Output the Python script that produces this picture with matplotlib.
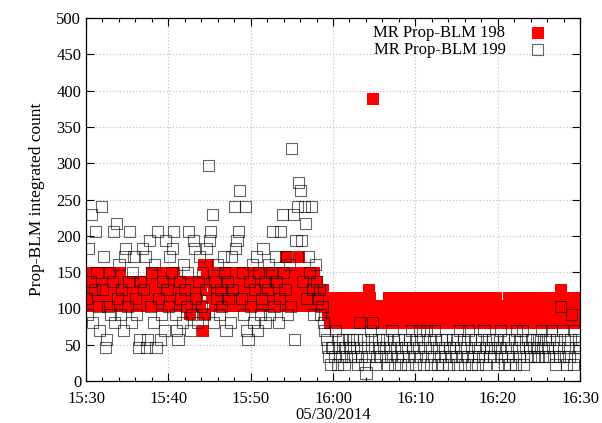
import pandas as pd
import matplotlib
matplotlib.use("Agg")
import matplotlib.pyplot as plt
import matplotlib.dates as mdates

plt.rcParams["font.family"] = ["Liberation Serif", "DejaVu Serif"]
plt.rcParams["font.size"] = 12

# one reading every 10 s, 15:30:00 .. 16:30:00
times = pd.date_range("2014-05-30 15:30:00", "2014-05-30 16:30:00", freq="10s")

# MR Prop-BLM 198, 15:30:00 - 15:59:50 (one row = 2 minutes)
blm198_early = [
    126, 149, 103, 137, 114, 149, 126, 103, 137, 149, 114, 126,
    103, 149, 137, 114, 126, 103, 149, 137, 114, 126, 149, 103,
    137, 149, 114, 126, 103, 137, 114, 126, 103, 137, 114, 126,
    103, 137, 126, 114, 103, 137, 126, 114, 103, 137, 126, 114,
    149, 103, 137, 126, 149, 114, 103, 137, 149, 126, 114, 103,
    137, 149, 126, 114, 149, 103, 137, 126, 114, 103, 137, 126,
    114, 103, 137, 126, 92, 114, 137, 103, 126, 114, 137, 103,
    126, 69, 160, 92, 149, 160, 137, 149, 114, 126, 103, 137,
    114, 126, 103, 137, 149, 126, 114, 149, 103, 137, 126, 149,
    114, 103, 137, 149, 126, 114, 103, 149, 137, 126, 114, 149,
    103, 137, 126, 149, 114, 103, 137, 149, 126, 114, 103, 149,
    137, 126, 114, 149, 103, 137, 126, 149, 114, 103, 137, 149,
    126, 114, 171, 149, 103, 137, 126, 149, 114, 103, 137, 171,
    149, 126, 114, 137, 103, 149, 126, 137, 114, 103, 149, 126,
    137, 114, 126, 103, 114, 126, 103, 114, 91, 103, 80, 91,
]
# MR Prop-BLM 198, 16:00:00 - 16:30:00
blm198_late = [
    103, 80, 114, 91, 80, 103, 114, 91, 103, 80, 114, 91,
    80, 103, 114, 91, 80, 103, 91, 114, 80, 103, 114, 91,
    80, 103, 126, 114, 91, 389, 80, 103, 91, 80, 103, 91,
    80, 103, 91, 80, 103, 114, 91, 80, 114, 103, 91, 80,
    114, 103, 91, 80, 114, 103, 80, 91, 114, 103, 80, 91,
    114, 80, 103, 91, 114, 80, 103, 91, 114, 80, 103, 91,
    114, 80, 103, 91, 80, 103, 91, 80, 103, 114, 91, 80,
    103, 114, 91, 80, 103, 114, 80, 91, 103, 114, 80, 91,
    103, 114, 80, 91, 103, 114, 80, 91, 103, 114, 80, 91,
    103, 80, 91, 103, 80, 91, 114, 103, 80, 91, 103, 114,
    80, 91, 103, 80, 91, 103, 80, 91, 114, 103, 80, 114,
    91, 103, 80, 114, 91, 103, 80, 114, 91, 103, 80, 114,
    91, 80, 103, 114, 91, 80, 103, 114, 91, 80, 103, 114,
    80, 91, 103, 114, 80, 91, 103, 114, 80, 91, 126, 103,
    114, 80, 91, 103, 114, 80, 91, 103, 114, 80, 91, 103,
    114,
]

# MR Prop-BLM 199, 15:30:00 - 15:59:50
blm199_early = [
    114, 91, 183, 137, 229, 80, 126, 206, 149, 103, 69, 240,
    126, 171, 46, 57, 103, 149, 91, 137, 206, 80, 217, 114,
    160, 91, 126, 69, 171, 183, 103, 137, 206, 80, 149, 171,
    114, 91, 46, 57, 137, 183, 126, 171, 46, 57, 194, 103,
    149, 80, 160, 46, 206, 114, 57, 91, 137, 69, 194, 126,
    103, 171, 149, 183, 206, 91, 69, 57, 137, 114, 80, 160,
    126, 103, 149, 206, 69, 91, 194, 183, 114, 80, 137, 171,
    103, 149, 91, 126, 183, 297, 194, 206, 229, 80, 137, 114,
    160, 91, 126, 103, 171, 149, 69, 137, 114, 80, 171, 126,
    240, 183, 194, 206, 263, 114, 149, 91, 240, 69, 57, 137,
    103, 160, 80, 126, 171, 69, 149, 91, 114, 183, 137, 80,
    126, 160, 91, 149, 206, 103, 171, 137, 80, 114, 206, 229,
    149, 126, 171, 91, 160, 103, 320, 229, 57, 194, 240, 274,
    263, 194, 137, 240, 217, 114, 171, 149, 240, 126, 91, 160,
    137, 114, 126, 91, 103, 80, 69, 57, 46, 34, 23, 46,
]
# MR Prop-BLM 199, 16:00:00 - 16:30:00
blm199_late = [
    46, 34, 69, 23, 57, 46, 34, 57, 23, 46, 34, 57,
    46, 34, 57, 46, 34, 57, 23, 80, 46, 34, 57, 23,
    11, 46, 34, 69, 57, 80, 46, 23, 34, 57, 46, 34,
    57, 46, 34, 57, 23, 46, 34, 69, 57, 23, 46, 34,
    57, 23, 46, 34, 57, 46, 23, 34, 57, 69, 46, 34,
    23, 57, 46, 69, 34, 57, 23, 46, 69, 34, 57, 23,
    46, 34, 69, 57, 23, 46, 34, 57, 23, 46, 34, 57,
    23, 46, 34, 57, 46, 34, 57, 23, 69, 46, 34, 57,
    23, 46, 34, 69, 57, 23, 34, 46, 57, 23, 34, 46,
    57, 34, 69, 23, 46, 57, 34, 46, 57, 34, 46, 57,
    23, 46, 69, 34, 57, 23, 46, 34, 57, 23, 46, 34,
    57, 23, 69, 46, 34, 57, 69, 23, 46, 34, 57, 46,
    34, 57, 46, 34, 57, 46, 34, 57, 69, 46, 34, 57,
    46, 34, 57, 69, 46, 34, 23, 57, 46, 34, 103, 69,
    34, 57, 23, 46, 34, 57, 91, 23, 69, 46, 34, 57,
    46,
]

blm198 = blm198_early + blm198_late
blm199 = blm199_early + blm199_late
assert len(blm198) == len(times) and len(blm199) == len(times)

fig = plt.figure(figsize=(6.02, 4.23), dpi=100)
ax = fig.add_axes([0.1429, 0.0993, 0.8206, 0.8581])

ax.scatter(times, blm198, marker="s", s=68, color="#ff0000", linewidths=0,
           label="MR Prop-BLM 198", zorder=2)
ax.scatter(times, blm199, marker="s", s=64, facecolors="none",
           edgecolors=(0, 0, 0, 0.6), linewidths=0.8,
           label="MR Prop-BLM 199", zorder=3)

ax.set_xlim(times[0], times[-1])
ax.set_ylim(0, 500)
ax.set_yticks(range(0, 501, 50))
ax.xaxis.set_major_locator(mdates.MinuteLocator(byminute=range(0, 60, 10)))
ax.xaxis.set_minor_locator(mdates.MinuteLocator(byminute=range(0, 60, 2)))
ax.xaxis.set_major_formatter(mdates.DateFormatter("%H:%M"))

ax.grid(True, which="major", color="#b8b8b8", linestyle=(0, (1, 2)), linewidth=0.8)
ax.set_axisbelow(True)
ax.tick_params(which="both", direction="in", top=True, right=True)
ax.tick_params(which="major", length=6, width=0.8)
ax.tick_params(which="minor", length=3, width=0.8)
ax.tick_params(axis="x", pad=7)
for sp in ax.spines.values():
    sp.set_linewidth(0.9)

ax.set_xlabel("05/30/2014", labelpad=0.5)
ax.set_ylabel("Prop-BLM integrated count", fontsize=12.5, labelpad=8)

ax.legend(loc="upper right", bbox_to_anchor=(0.94, 0.98), frameon=False,
          markerfirst=False, handletextpad=1.2, handlelength=1.5,
          borderaxespad=0, borderpad=0, labelspacing=0.05, scatterpoints=1)

fig.savefig("out.png", dpi=100)
